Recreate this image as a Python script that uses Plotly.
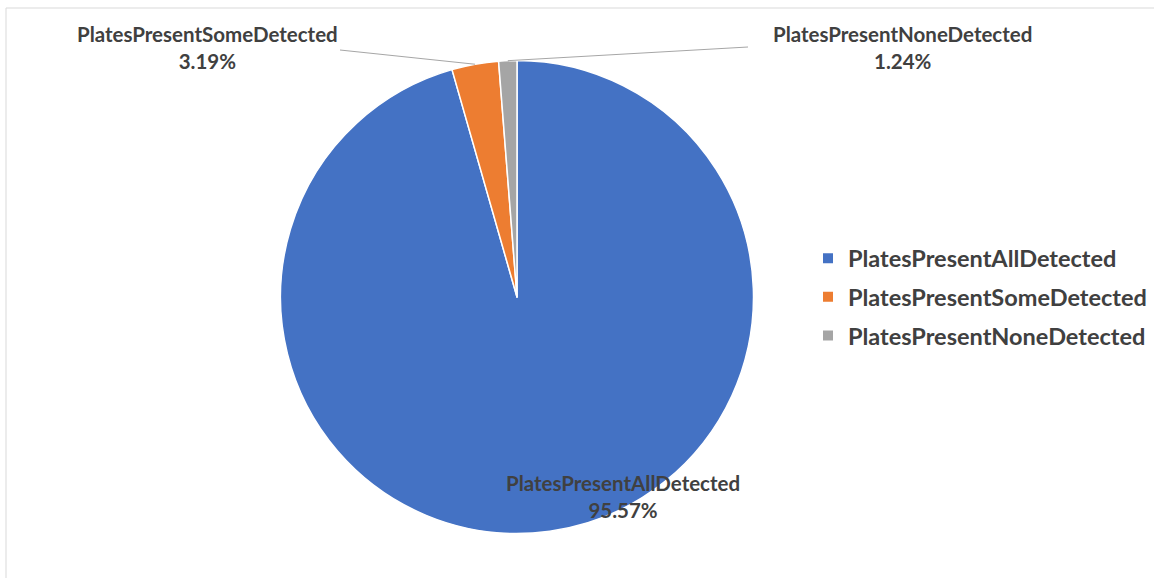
import math
import plotly.graph_objects as go

# ---- data ----
categories = ["PlatesPresentAllDetected", "PlatesPresentSomeDetected", "PlatesPresentNoneDetected"]
percentages = [95.57, 3.19, 1.24]
colors = ["#4472C4", "#ED7D31", "#A5A5A5"]

W, H = 1155, 578
# pie geometry in pixels
CX, CY, R = 517, 297, 236.5

def px_x(p):
    return p / W

def px_y(p):
    return 1 - p / H

fig = go.Figure()
fig.add_trace(go.Pie(
    labels=categories,
    values=percentages,
    sort=False,
    direction="clockwise",
    rotation=0,
    marker=dict(colors=colors, line=dict(color="white", width=1.5)),
    textinfo="none",
    hoverinfo="label+percent",
    showlegend=False,
    domain=dict(x=[px_x(CX - R), px_x(CX + R)], y=[px_y(CY + R), px_y(CY - R)]),
))

# legend entries via dummy traces for custom spacing
for i, (c, col) in enumerate(zip(categories, colors)):
    fig.add_trace(go.Scatter(
        x=[None], y=[None], mode="markers", name=c,
        legendgroup=c,
        marker=dict(symbol="square", size=10, color=col),
        showlegend=True,
    ))

# label placements (label centre x, centre y, and leader anchor on label side)
label_pos = {
    0: dict(x=623, y=496, leader=None),
    1: dict(x=207, y=47, leader=(340, 50)),
    2: dict(x=902, y=47, leader=(748, 47)),
}

total = sum(percentages)
cum = 0.0
for i, (c, v) in enumerate(zip(categories, percentages)):
    start = cum / total * 360
    cum += v
    end = cum / total * 360
    mid = math.radians((start + end) / 2)
    ex = CX + R * math.sin(mid)
    ey = CY - R * math.cos(mid)
    lp = label_pos[i]
    fig.add_annotation(
        x=px_x(lp["x"]), y=px_y(lp["y"]), xref="paper", yref="paper",
        text=f"<b>{c}<br>{v:.2f}%</b>", showarrow=False,
        font=dict(family="Lato", size=20.5, color="#404040"),
        xanchor="center", yanchor="middle", align="center",
    )
    if lp["leader"] is not None:
        lx, ly = lp["leader"]
        fig.add_shape(type="line", xref="paper", yref="paper",
                      x0=px_x(lx), y0=px_y(ly), x1=px_x(ex), y1=px_y(ey),
                      line=dict(color="#A6A6A6", width=1))

# chart border (top and left visible)
fig.add_shape(type="line", xref="paper", yref="paper",
              x0=px_x(6), y0=px_y(8), x1=px_x(1154), y1=px_y(8),
              line=dict(color="#D9D9D9", width=1))
fig.add_shape(type="line", xref="paper", yref="paper",
              x0=px_x(6), y0=px_y(8), x1=px_x(6), y1=px_y(578),
              line=dict(color="#D9D9D9", width=1))

fig.update_layout(
    width=W, height=H,
    margin=dict(l=0, r=0, t=0, b=0),
    paper_bgcolor="white", plot_bgcolor="white",
    xaxis=dict(visible=False), yaxis=dict(visible=False),
    legend=dict(
        x=px_x(808), y=px_y(297), xanchor="left", yanchor="middle",
        font=dict(family="Lato", size=23.5, color="#404040", weight="bold"),
        traceorder="grouped", tracegroupgap=5,
        itemclick=False, bgcolor="rgba(0,0,0,0)",
    ),
    showlegend=True,
)

fig.write_html("out.html")
